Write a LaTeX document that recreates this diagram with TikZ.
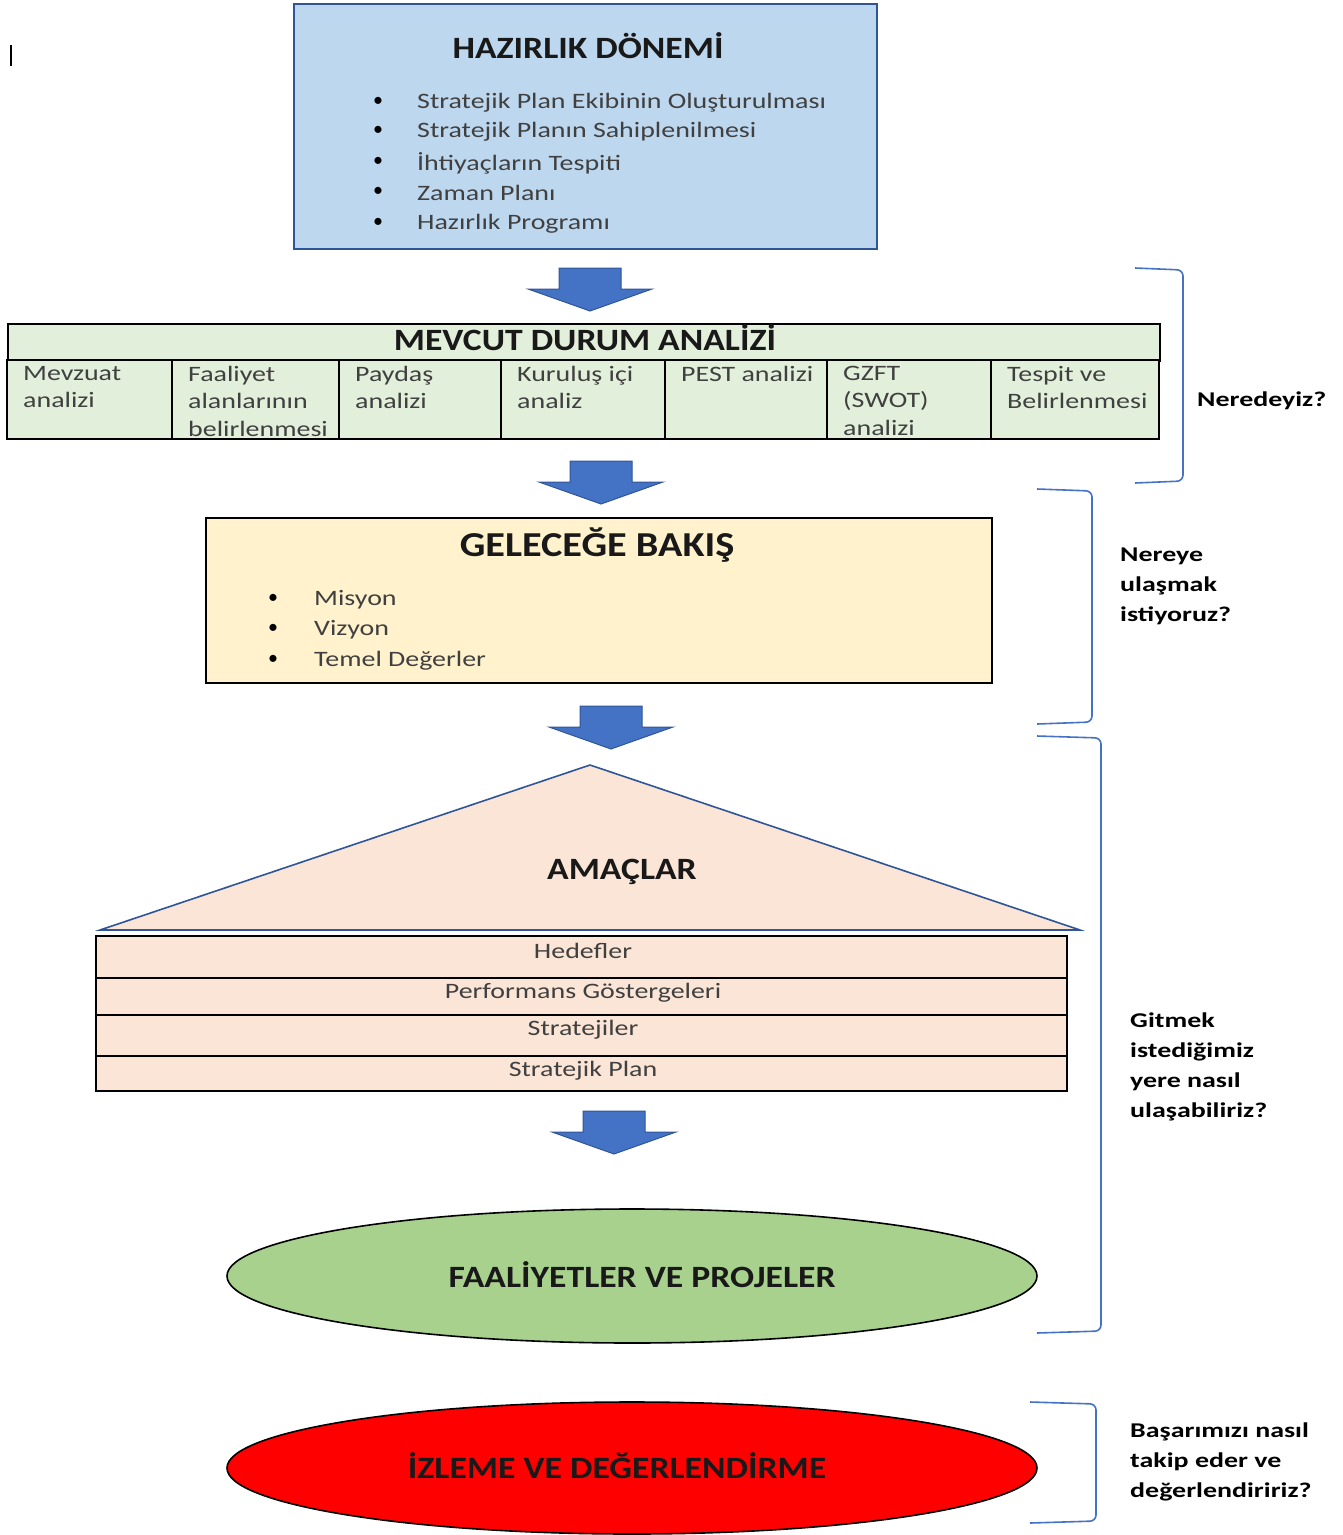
\documentclass[tikz,border=0pt]{standalone}
\usepackage{fontspec}
\setmainfont{Carlito}
\newfontfamily\basfont[FakeStretch=1.15]{Carlito}
\newfontfamily\govdefont[FakeStretch=1.27]{Carlito}
\newfontfamily\sorufont[FakeStretch=1.33]{Carlito}
\usetikzlibrary{positioning}
\usetikzlibrary{shapes.geometric}
\definecolor{hazir}{RGB}{189,215,238}
\definecolor{mevcut}{RGB}{226,239,218}
\definecolor{gelecek}{RGB}{255,242,204}
\definecolor{amac}{RGB}{251,229,214}
\definecolor{faal}{RGB}{169,209,142}
\definecolor{okmavi}{RGB}{68,114,196}
\definecolor{koyumavi}{RGB}{47,85,151}
\definecolor{yazi}{RGB}{64,64,64}
\tikzstyle{baslik} = [font=\basfont\fontsize{31}{36}\selectfont\bfseries, text=black!90]
\tikzstyle{madde} = [anchor=west, inner sep=0pt, font=\govdefont\fontsize{22}{26}\selectfont, text=yazi]
\tikzstyle{nokta} = [inner sep=0pt, font=\fontsize{20}{26}\selectfont]
\tikzstyle{hucre} = [anchor=north west, inner sep=0pt, align=left, font=\govdefont\fontsize{22}{27.5}\selectfont, text=yazi]
\tikzstyle{satir} = [inner sep=0pt, font=\govdefont\fontsize{22}{26}\selectfont, text=yazi]
\tikzstyle{soru} = [anchor=north west, inner sep=0pt, align=left, font=\sorufont\fontsize{21}{30}\selectfont\bfseries]
\tikzstyle{parantez} = [draw=okmavi, line width=1.6pt, rounded corners=6pt]
\tikzstyle{okblok} = [fill=okmavi, draw=koyumavi, line width=1pt]

\begin{document}
\begin{tikzpicture}[x=1pt, y=-1pt]
    \useasboundingbox (0,0) rectangle (1343,1535);

    % imlec
    \draw[line width=1.2pt] (11,45) -- (11,66);

    % hazirlik donemi
    \node[draw=koyumavi, line width=2pt, fill=hazir, anchor=north west, inner sep=0pt,
          minimum width=583pt, minimum height=245pt] (hazirlik) at (293,3) {};
    \node[baslik] (hazirlikbaslik) at (588,46) {HAZIRLIK DÖNEMİ};
    \foreach \i/\y/\t in {1/103/{Stratejik Plan Ekibinin Oluşturulması},
                          2/132/{Stratejik Planın Sahiplenilmesi},
                          3/163/{İhtiyaçların Tespiti},
                          4/193/{Zaman Planı},
                          5/224/{Hazırlık Programı}} {
        \node[nokta] (hn\i) at (378,\y-1) {\textbullet};
        \node[madde] (hm\i) at (417,\y) {\t};
    }

    % bloklu oklar
    \foreach \x/\y in {590/268, 601/461, 611/706, 614/1111}
        \draw[okblok] (\x-31,\y) -- (\x+31,\y) -- (\x+31,\y+21) -- (\x+62,\y+21)
            -- (\x,\y+43) -- (\x-62,\y+21) -- (\x-31,\y+21) -- cycle;

    % mevcut durum analizi
    \node[draw, line width=2pt, fill=mevcut, anchor=north west, inner sep=0pt,
          minimum width=1152pt, minimum height=37pt] (mevcut) at (7,323) {};
    \node[baslik] (mevcutbaslik) at (585,338) {MEVCUT DURUM ANALİZİ};
    \foreach \i/\a/\b/\t in {1/7/172/{Mevzuat\\analizi},
                             2/172/339/{Faaliyet\\alanlarının\\belirlenmesi},
                             3/339/501/{Paydaş\\analizi},
                             4/501/665/{Kuruluş içi\\analiz},
                             5/665/827/{PEST analizi},
                             6/827/991/{GZFT\\(SWOT)\\analizi},
                             7/991/1159/{Tespit ve\\Belirlenmesi}} {
        \draw[line width=2pt, fill=mevcut] (\a,360) rectangle (\b,439);
        \node[hucre] (m\i) at (\a+16,366) {\t};
    }

    % gelecege bakis
    \node[draw, line width=2pt, fill=gelecek, anchor=north west, inner sep=0pt,
          minimum width=786pt, minimum height=165pt] (gelecek) at (205,517) {};
    \node[baslik, font=\basfont\fontsize{35}{40}\selectfont\bfseries] (gelecekbaslik) at (597,545) {GELECEĞE BAKIŞ};
    \foreach \i/\y/\t in {1/600/Misyon, 2/630/Vizyon, 3/661/{Temel Değerler}} {
        \node[nokta] (gn\i) at (273,\y-1) {\textbullet};
        \node[madde] (gm\i) at (314,\y) {\t};
    }

    % amaclar
    \draw[fill=amac, draw=koyumavi, line width=1.6pt] (590,765) -- (1080,930) -- (100,930) -- cycle;
    \node[baslik] (amaclar) at (622,872) {AMAÇLAR};
    \foreach \i/\ya/\yb/\t in {1/936/978/Hedefler,
                               2/978/1015/{Performans Göstergeleri},
                               3/1015/1056/Stratejiler,
                               4/1056/1091/{Stratejik Plan}} {
        \draw[line width=2pt, fill=amac] (96,\ya) rectangle (1067,\yb);
        \node[satir] (s\i) at (583,\ya+15) {\t};
    }

    % faaliyetler, izleme
    \node[ellipse, draw, line width=1.6pt, fill=faal, minimum width=810pt, minimum height=134pt,
          baslik] (faaliyet) at (632,1276) {\hspace*{20pt}\raisebox{3pt}{FAALİYETLER VE PROJELER}};
    \node[ellipse, draw, line width=1.6pt, fill=red, minimum width=810pt, minimum height=132pt,
          baslik] (izleme) at (632,1468) {\raisebox{4pt}{İZLEME VE DEĞERLENDİRME}\hspace*{30pt}};

    % parantezler ve sorular
    \draw[parantez] (1135,268) -- (1183,270) -- (1183,481) -- (1135,483);
    \node[soru, anchor=west] (s1) at (1197,401) {Neredeyiz?};
    \draw[parantez] (1037,489) -- (1092,491) -- (1092,722) -- (1037,724);
    \node[soru] (s2) at (1120,548) {Nereye\\ulaşmak\\istiyoruz?};
    \draw[parantez] (1037,736) -- (1101,738) -- (1101,1331) -- (1037,1333);
    \node[soru] (s3) at (1130,1013) {Gitmek\\istediğimiz\\yere nasıl\\ulaşabiliriz?};
    \draw[parantez] (1030,1402) -- (1096,1404) -- (1096,1521) -- (1030,1523);
    \node[soru] (s4) at (1130,1423) {Başarımızı nasıl\\takip eder ve\\değerlendiririz?};

\end{tikzpicture}
\end{document}
